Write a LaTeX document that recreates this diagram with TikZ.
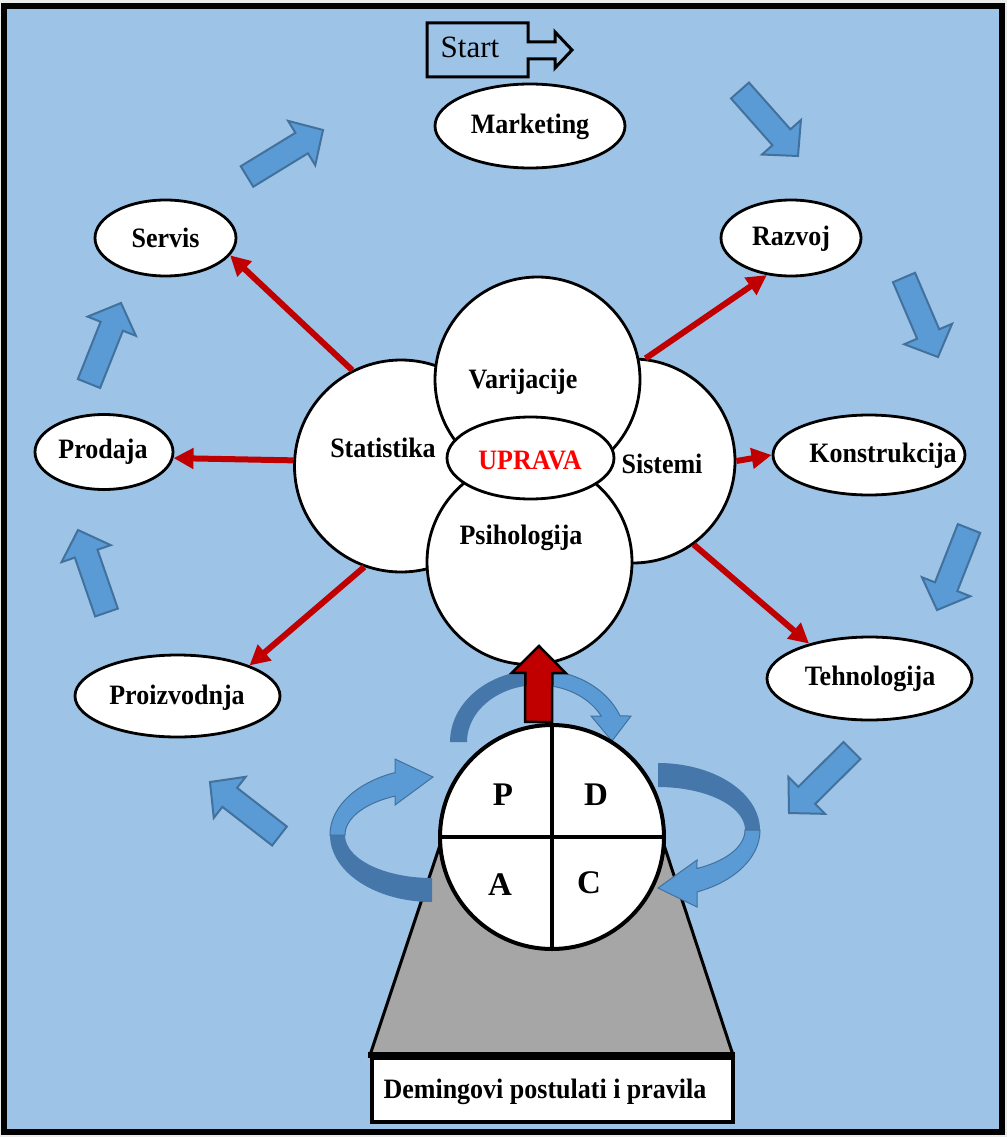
\documentclass[tikz,border=0pt]{standalone}
\usepackage{fontspec}
\usepackage{graphicx}
\setmainfont{Liberation Serif}
\usetikzlibrary{calc,arrows.meta,shapes.geometric}
\definecolor{bg}{HTML}{9DC3E6}
\definecolor{blk}{HTML}{5B9BD5}
\definecolor{blkedge}{HTML}{41719C}
\definecolor{darkband}{HTML}{4677AA}
\definecolor{redarr}{HTML}{C00000}
\definecolor{trap}{HTML}{A6A6A6}
\newcommand\tallt[1]{\scalebox{1}[1.08]{#1}}
\newcommand\blockarrow[6]{%
  \coordinate (ba-t) at #2; \coordinate (ba-p) at #3;
  \coordinate (ba-h) at ($(ba-p)!#6!(ba-t)$);
  \filldraw[#1] ($(ba-t)!#4!90:(ba-p)$) -- ($(ba-h)!#4!90:(ba-p)$) -- ($(ba-h)!#5!90:(ba-p)$) -- (ba-p)
   -- ($(ba-h)!#5!-90:(ba-p)$) -- ($(ba-h)!#4!-90:(ba-p)$) -- ($(ba-t)!#4!-90:(ba-p)$) -- cycle;}
\tikzset{
  lbl/.style={font=\bfseries\fontsize{26}{30}\selectfont, inner sep=0},
  big/.style={font=\bfseries\fontsize{33}{38}\selectfont, inner sep=0},
  ell/.style={ellipse, draw=black, fill=white, line width=2.8pt, inner sep=0},
  circ/.style={ellipse, draw=black, fill=white, line width=2.8pt, inner sep=0},
  bluearrow/.style={fill=blk, draw=blkedge, line width=2pt, line join=miter},
  redblock/.style={fill=redarr, draw=black, line width=2.5pt, line join=miter},
  redarrow/.style={draw=redarr, line width=6pt, -{Triangle[length=20pt,width=20pt]}},
  lightband/.style={fill=blk, draw=blkedge, line width=1pt},
  darkbandst/.style={fill=darkband}
}
\begin{document}
\begin{tikzpicture}[x=1pt,y=-1pt]
\useasboundingbox (0,0) rectangle (1007,1137);
\fill[white!92!black] (0,0) rectangle (1007,1137);
\filldraw[fill=bg, draw=black, line width=6pt] (4,6) rectangle (1002,1132);

% blue block arrows around the cycle
\blockarrow{bluearrow}{(247,176.5)}{(323,130)}{12pt}{26pt}{25pt}
\blockarrow{bluearrow}{(740,90.5)}{(798,156)}{12pt}{26pt}{25pt}
\blockarrow{bluearrow}{(904,277.5)}{(938,357)}{12pt}{26pt}{25pt}
\blockarrow{bluearrow}{(969,528.5)}{(937,610)}{12pt}{26pt}{25pt}
\blockarrow{bluearrow}{(852,750.5)}{(789,813)}{12pt}{26pt}{25pt}
\blockarrow{bluearrow}{(279.5,836)}{(210,782)}{12pt}{26pt}{25pt}
\blockarrow{bluearrow}{(106.5,612.5)}{(78,530)}{12pt}{26pt}{25pt}
\blockarrow{bluearrow}{(89,383.5)}{(121,303)}{12pt}{26pt}{25pt}

% Start arrow
\draw[line width=3pt, line join=miter] (427,23) -- (528,23) -- (528,42) -- (555,42) -- (555,32) -- (572,50)
  -- (555,68) -- (555,59) -- (528,59) -- (528,77) -- (427,77) -- cycle;
\node[font=\fontsize{31}{36}\selectfont, inner sep=0] (start) at (470,47) {Start};

% outer ellipses
\node[ell, minimum width=190pt, minimum height=84pt] (marketing) at (530,126) {};
\node[lbl] at (530,127) {\tallt{Marketing}};
\node[ell, minimum width=140pt, minimum height=76pt] (razvoj) at (791,238) {};
\node[lbl] at (791,239) {\tallt{Razvoj}};
\node[ell, minimum width=192pt, minimum height=80pt] (konst) at (869,455) {};
\node[lbl] at (883,456) {\tallt{Konstrukcija}};
\node[ell, minimum width=205pt, minimum height=83pt] (tehn) at (869.5,678.5) {};
\node[lbl] at (870,679) {\tallt{Tehnologija}};
\node[ell, minimum width=205pt, minimum height=82pt] (proizv) at (177.5,696) {};
\node[lbl] at (177,698) {\tallt{Proizvodnja}};
\node[ell, minimum width=138pt, minimum height=75pt] (prodaja) at (104,452) {};
\node[lbl] at (103,452) {\tallt{Prodaja}};
\node[ell, minimum width=141pt, minimum height=76pt] (servis) at (165.5,238) {};
\node[lbl] at (165.5,238) {\tallt{Servis}};

% central circles
\node[circ, minimum width=213pt, minimum height=212pt] (stat) at (401,466) {};
\node[circ, minimum size=204pt] (sist) at (633,461) {};
\node[circ, minimum size=205pt] (var) at (537.5,379.5) {};
\node[circ, minimum size=205pt] (psih) at (529.5,562) {};
\node[circ, minimum width=167pt, minimum height=82pt] (uprava) at (530.5,458) {};
\node[lbl] at (383,448) {\tallt{Statistika}};
\node[lbl] at (523,382) {\tallt{Varijacije}};
\node[lbl] at (662,464) {\tallt{Sistemi}};
\node[lbl] at (521,538) {\tallt{Psihologija}};
\node[lbl, text=red] at (530,460) {\tallt{UPRAVA}};

% red connectors
\draw[redarrow] (stat.117) -- (servis.-15);
\draw[redarrow] (stat.177) -- (prodaja.-5);
\draw[redarrow] (stat.250) -- (proizv.23);
\draw[redarrow] (sist.83) -- (razvoj.237);
\draw[redarrow] (sist.0) -- (konst.180);
\draw[redarrow] (sist.-54) -- (tehn.150);

% pedestal
\filldraw[fill=trap, draw=black, line width=3pt, line join=miter] (370,1055) -- (440,845) -- (664,845) -- (733,1055) -- cycle;
\draw[line width=6pt] (368,1055) -- (735,1055);

% top curved arrow
\fill[darkbandst] plot[domain=90:180, samples=40] ({538+88*cos(\x)},{742-72*sin(\x)})
  -- plot[domain=180:90, samples=40] ({538+71*cos(\x)},{742-57*sin(\x)}) -- cycle;
\filldraw[lightband] plot[domain=90:21.2, samples=40] ({538+88*cos(\x)},{742-72*sin(\x)})
  -- (631,716) -- (612,741) -- (591,716)
  -- plot[domain=27.1:90, samples=40] ({538+71*cos(\x)},{742-57*sin(\x)}) -- cycle;

% left ring arrow
\fill[darkbandst] plot[domain=180:270, samples=40] ({432+102*cos(\x)},{835-67*sin(\x)})
  -- plot[domain=270:180, samples=40] ({432+87*cos(\x)},{835-43*sin(\x)}) -- cycle;
\filldraw[lightband] (395,772.6) -- (395,759) -- (433,777) -- (395,805) -- (395,796.1)
  -- plot[domain=115.2:180, samples=40] ({432+87*cos(\x)},{835-43*sin(\x)})
  -- plot[domain=180:111.3, samples=40] ({432+102*cos(\x)},{835-67*sin(\x)}) -- cycle;

% right ring arrow
\fill[darkbandst] plot[domain=90:0, samples=40] ({658+102*cos(\x)},{830-67*sin(\x)})
  -- plot[domain=0:90, samples=40] ({658+87*cos(\x)},{830-43*sin(\x)}) -- cycle;
\filldraw[lightband] plot[domain=0:-67.5, samples=40] ({658+102*cos(\x)},{830-67*sin(\x)})
  -- (697,907) -- (658,888) -- (697,860)
  -- plot[domain=-63.4:0, samples=40] ({658+87*cos(\x)},{830-43*sin(\x)}) -- cycle;

% red up arrow
\blockarrow{redblock}{(538.5,722)}{(539,646)}{13.5pt}{27pt}{27pt}

% PDCA wheel
\node[circle, draw=black, fill=white, line width=4pt, minimum size=224pt, inner sep=0] (pdca) at (552,837) {};
\draw[line width=4pt] (pdca.north) -- (pdca.south);
\draw[line width=4pt] (pdca.west) -- (pdca.east);
\node[big] at (503,795) {P};
\node[big] at (596,795) {D};
\node[big] at (500,885) {A};
\node[big] at (589,883) {C};

% base box
\node[draw=black, fill=white, line width=3.5pt, minimum width=361pt, minimum height=64pt, inner sep=0] (deming) at (552.5,1090) {};
\node[lbl] at (545,1092) {\tallt{Demingovi postulati i pravila}};
\end{tikzpicture}
\end{document}
